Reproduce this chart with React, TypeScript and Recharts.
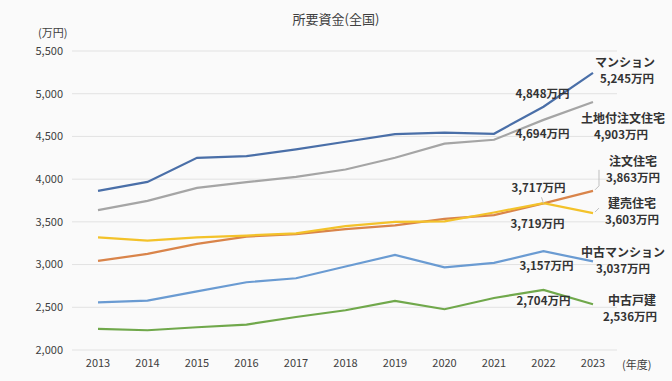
import React from "react";
import { LineChart, Line, XAxis, YAxis, CartesianGrid, LabelList } from "recharts";

const years = [2013, 2014, 2015, 2016, 2017, 2018, 2019, 2020, 2021, 2022, 2023];
const mansion = [3863, 3968, 4249, 4270, 4349, 4438, 4527, 4545, 4531, 4848, 5245];
const tochiChumon = [3637, 3746, 3898, 3965, 4027, 4113, 4251, 4415, 4461, 4694, 4903];
const chumon = [3043, 3125, 3242, 3327, 3356, 3415, 3458, 3534, 3578, 3717, 3863];
const tateuri = [3319, 3281, 3319, 3340, 3365, 3450, 3500, 3505, 3610, 3719, 3603];
const chukoMansion = [2558, 2578, 2687, 2793, 2840, 2977, 3113, 2968, 3020, 3157, 3037];
const chukoKodate = [2247, 2231, 2266, 2298, 2386, 2465, 2574, 2477, 2609, 2704, 2536];
const yTicks = [2000, 2500, 3000, 3500, 4000, 4500, 5000, 5500];
const seriesNames = ["マンション", "土地付注文住宅", "注文住宅", "建売住宅", "中古マンション", "中古戸建"];

const data = years.map((y, i) => ({
  year: y,
  mansion: mansion[i],
  tochiChumon: tochiChumon[i],
  chumon: chumon[i],
  tateuri: tateuri[i],
  chukoMansion: chukoMansion[i],
  chukoKodate: chukoKodate[i],
}));

const FONT = '"Noto Sans CJK JP", "Noto Sans", sans-serif';
const fmt = (v: number) => v.toLocaleString("en-US") + "万円";

type LabelCfg = {
  name: string;
  mid: [number, number];
  endName: [number, number];
  endVal: [number, number];
  midLeader?: number[];
  endLeader?: number[];
};

const cfgs: Record<string, LabelCfg> = {
  mansion: { name: seriesNames[0], mid: [-1, -14], endName: [32, -11], endVal: [34, 5.5] },
  tochiChumon: { name: seriesNames[1], mid: [-1, 13], endName: [30, 15], endVal: [28, 31.5] },
  chumon: {
    name: seriesNames[2], mid: [-5, -16], endName: [40, -30], endVal: [40, -13.5],
    midLeader: [-2, -6, 0, 0], endLeader: [2, -1, 6, -5, 6, -21],
  },
  tateuri: {
    name: seriesNames[3], mid: [-6, 20], endName: [39, -11], endVal: [39, 5.5],
    endLeader: [2, -1, 6, -5],
  },
  chukoMansion: { name: seriesNames[4], mid: [3, 14], endName: [30, -10], endVal: [30, 6.5] },
  chukoKodate: { name: seriesNames[5], mid: [0, 10], endName: [39, -4.5], endVal: [37, 12] },
};

const textStyle = { fontFamily: FONT, fontSize: 11.5, fontWeight: 700, fill: "#333" } as const;

const makeLabel = (key: string) => (props: any) => {
  const { x, y, index, value } = props;
  const c = cfgs[key];
  if (index === years.length - 2) {
    return (
      <g>
        {c.midLeader && (
          <polyline
            points={`${x + c.midLeader[0]},${y + c.midLeader[1]} ${x + c.midLeader[2]},${y + c.midLeader[3]}`}
            stroke="#bfbfbf" fill="none" strokeWidth={1}
          />
        )}
        <text x={x + c.mid[0]} y={y + c.mid[1]} textAnchor="middle" dominantBaseline="central" {...textStyle}>
          {fmt(value)}
        </text>
      </g>
    );
  }
  if (index === years.length - 1) {
    const pts: string[] = [];
    if (c.endLeader) {
      for (let i = 0; i < c.endLeader.length; i += 2) pts.push(`${x + c.endLeader[i]},${y + c.endLeader[i + 1]}`);
    }
    return (
      <g>
        {pts.length > 0 && <polyline points={pts.join(" ")} stroke="#bfbfbf" fill="none" strokeWidth={1} />}
        <text x={x + c.endName[0]} y={y + c.endName[1]} textAnchor="middle" dominantBaseline="central" {...textStyle} fontSize={12}>
          {c.name}
        </text>
        <text x={x + c.endVal[0]} y={y + c.endVal[1]} textAnchor="middle" dominantBaseline="central" {...textStyle}>
          {fmt(value)}
        </text>
      </g>
    );
  }
  return null;
};

const series: { key: string; color: string }[] = [
  { key: "chukoKodate", color: "#70a84b" },
  { key: "chukoMansion", color: "#6a9bd2" },
  { key: "chumon", color: "#d9844a" },
  { key: "tateuri", color: "#f3c22a" },
  { key: "tochiChumon", color: "#a5a5a5" },
  { key: "mansion", color: "#4a6fa8" },
];

export default function App() {
  return (
    <div style={{ position: "absolute", left: 0, top: 0, width: 672, height: 381, background: "#fafafa", fontFamily: FONT }}>
      <div style={{ position: "absolute", left: 0, width: 672, top: 9, textAlign: "center", fontSize: 13, color: "#404040" }}>
        所要資金(全国)
      </div>
      <div style={{ position: "absolute", left: 38, top: 24, fontSize: 11, color: "#404040" }}>(万円)</div>
      <div style={{ position: "absolute", left: 622, top: 356, fontSize: 11, color: "#404040" }}>(年度)</div>
      <LineChart width={672} height={381} data={data} margin={{ top: 51, right: 55, left: 12, bottom: 1 }}>
        <CartesianGrid horizontal vertical={false} stroke="#e2e2e2" />
        <XAxis
          dataKey="year"
          type="number"
          domain={[2013, 2023]}
          ticks={years}
          height={30}
          padding={{ left: 26, right: 24 }}
          axisLine={false}
          tickLine={false}
          tickSize={0}
          tickMargin={9}
          tick={{ fontSize: 11, fill: "#404040", fontFamily: FONT }}
          interval={0}
        />
        <YAxis
          width={60}
          domain={[2000, 5500]}
          ticks={yTicks}
          axisLine={false}
          tickLine={false}
          tickSize={0}
          tickMargin={9}
          tickFormatter={(v: number) => v.toLocaleString("en-US")}
          tick={{ fontSize: 11, fill: "#404040", fontFamily: FONT }}
        />
        {series.map((s) => (
          <Line
            key={s.key}
            dataKey={s.key}
            stroke={s.color}
            strokeWidth={2.2}
            dot={false}
            activeDot={false}
            isAnimationActive={false}
          >
            <LabelList dataKey={s.key} content={makeLabel(s.key)} />
          </Line>
        ))}
      </LineChart>
    </div>
  );
}
